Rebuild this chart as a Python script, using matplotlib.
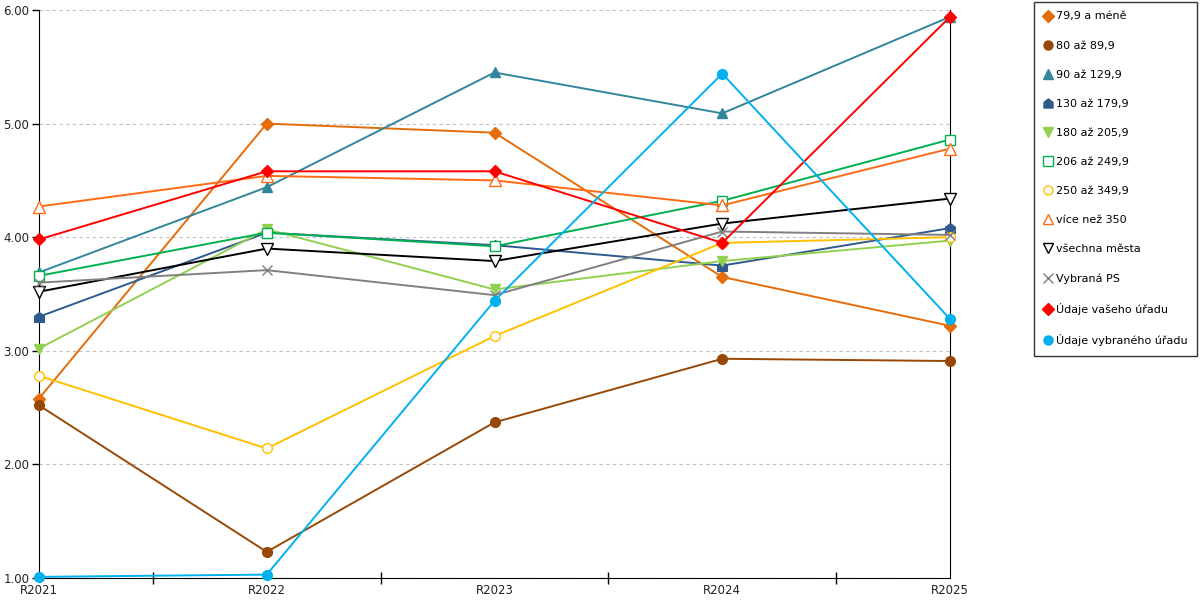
import matplotlib
matplotlib.use("Agg")
import matplotlib.pyplot as plt
import numpy as np
from matplotlib.path import Path

plt.rcParams['font.family'] = ['DejaVu Sans']

years = ['R2021', 'R2022', 'R2023', 'R2024', 'R2025']

mene_79 = [2.58, 5.00, 4.92, 3.65, 3.22]
az_80 = [2.52, 1.23, 2.37, 2.93, 2.91]
az_90 = [3.69, 4.44, 5.45, 5.09, 5.94]
az_130 = [3.30, 4.04, 3.93, 3.75, 4.08]
az_180 = [3.02, 4.07, 3.54, 3.79, 3.97]
az_206 = [3.66, 4.04, 3.92, 4.32, 4.86]
az_250 = [2.78, 2.14, 3.13, 3.95, 4.00]
vice_350 = [4.27, 4.54, 4.50, 4.28, 4.78]
vsechna = [3.52, 3.90, 3.79, 4.12, 4.34]
vybrana_ps = [3.60, 3.71, 3.49, 4.05, 4.02]
vas_urad = [3.98, 4.58, 4.58, 3.95, 5.94]
vybrany_urad = [1.01, 1.03, 3.44, 5.44, 3.28]

labels = ['79,9 a méně', '80 až 89,9', '90 až 129,9', '130 až 179,9', '180 až 205,9',
          '206 až 249,9', '250 až 349,9', 'více než 350', 'všechna města', 'Vybraná PS',
          'Údaje vašeho úřadu', 'Údaje vybraného úřadu']

# domecek pro 130 az 179,9
house = Path([(-1, -1), (1, -1), (1, 0.25), (0, 1), (-1, 0.25), (-1, -1)],
             [Path.MOVETO, Path.LINETO, Path.LINETO, Path.LINETO, Path.LINETO, Path.CLOSEPOLY])

series = [
    (mene_79, '#E46C0A', 'D', True, 6),
    (az_80, '#974806', 'o', True, 7),
    (az_90, '#31859C', '^', True, 7.5),
    (az_130, '#2F5A8E', house, True, 7),
    (az_180, '#92D050', 'v', True, 7.5),
    (az_206, '#00B050', 's', False, 7),
    (az_250, '#FFC000', 'o', False, 7),
    (vice_350, '#FF6A13', '^', False, 8),
    (vsechna, '#000000', 'v', False, 8),
    (vybrana_ps, '#808080', 'x', False, 7.5),
    (vas_urad, '#FF0000', 'D', True, 6),
    (vybrany_urad, '#00B0F0', 'o', True, 7),
]

fig = plt.figure(figsize=(12, 6), dpi=100)
ax = fig.add_axes([39 / 1200, 22 / 600, 911 / 1200, 568 / 600])

x = np.arange(len(years))
handles = []
for (vals, col, mk, filled, ms), lab in zip(series, labels):
    h, = ax.plot(x, vals, color=col, lw=1.4, marker=mk, ms=ms,
                 mfc=col if filled else 'white', mec=col, mew=1.0,
                 label=lab, clip_on=False, zorder=3)
    handles.append(h)

ax.set_xlim(0, 4)
ax.set_ylim(1, 6)
ax.set_yticks([1, 2, 3, 4, 5, 6])
ax.set_yticklabels(['1.00', '2.00', '3.00', '4.00', '5.00', '6.00'])
ax.yaxis.grid(True, ls=(0, (3, 3)), color='#c0c0c0', lw=0.8)
ax.set_axisbelow(True)

ax.set_xticks(x)
ax.set_xticklabels(years)
ax.set_xticks(x[:-1] + 0.5, minor=True)
ax.tick_params(axis='x', which='major', length=0, pad=4, labelsize=8.5)
ax.tick_params(axis='x', which='minor', length=8, direction='inout', width=1)
ax.tick_params(axis='y', length=5, width=1, labelsize=8.5, pad=2)
ax.tick_params(axis='both', labelcolor='#222222', color='black')

ax.spines['top'].set_visible(False)
for s in ['right', 'left', 'bottom']:
    ax.spines[s].set_color('black')

leg = fig.legend(handles=handles, loc='upper left', bbox_to_anchor=(1034 / 1200, 1 - 2 / 600),
                 frameon=True, fancybox=False, edgecolor='black', fontsize=8,
                 labelspacing=1.72, handlelength=0.8, handletextpad=0.35,
                 borderpad=0.85, borderaxespad=0)
for lh in leg.legend_handles:
    lh.set_linestyle('none')
    lh.set_markersize(6.5)
leg.get_frame().set_linewidth(1.0)

fig.savefig('out.png', dpi=100)
